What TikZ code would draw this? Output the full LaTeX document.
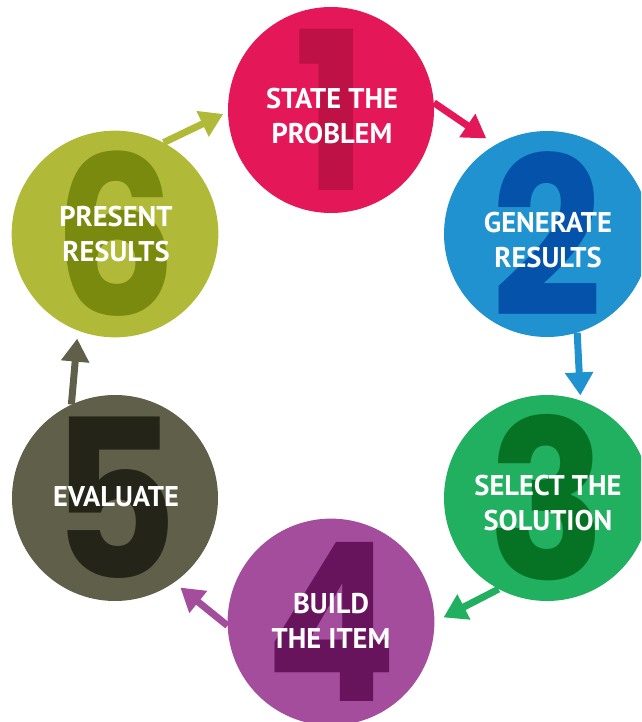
\documentclass[tikz,border=0pt]{standalone}
\usepackage{fontspec}
\setmainfont{PT Sans}
\newfontfamily\digitfont{Poppins}[FakeStretch=0.88]
\usepackage{xcolor}
\usepackage{tikz}
\usetikzlibrary{arrows.meta}

% circle fill and big number colour per stage
\definecolor{stateC}{HTML}{E41858}
\definecolor{stateD}{HTML}{BE1146}
\definecolor{generateC}{HTML}{2192D0}
\definecolor{generateD}{HTML}{0452AA}
\definecolor{selectC}{HTML}{21AF60}
\definecolor{selectD}{HTML}{067324}
\definecolor{buildC}{HTML}{A34D9C}
\definecolor{buildD}{HTML}{67145D}
\definecolor{evaluateC}{HTML}{60604A}
\definecolor{evaluateD}{HTML}{242418}
\definecolor{presentC}{HTML}{B0BA38}
\definecolor{presentD}{HTML}{7A8A0E}

\begin{document}
\begin{tikzpicture}[
    x=1pt, y=-1pt,
    stage/.style={circle, minimum size=206pt, inner sep=0pt, font=\digitfont\bfseries\fontsize{221}{221}\selectfont},
    caption/.style={align=center, text=white, font=\bfseries\fontsize{28.5}{35}\selectfont},
    arrow/.style={-{Triangle[length=23pt,width=27pt]}, line width=7pt}
]
\useasboundingbox (0,0) rectangle (641,722);
\clip (0,0) rectangle (641,722);

% the six stages
\node[stage, fill=stateC, text=stateD] (state) at (331,110) {1};
\node[stage, fill=generateC, text=generateD] (generate) at (547,234) {2};
\node[stage, fill=selectC, text=selectD] (select) at (547,498) {3};
\node[stage, fill=buildC, text=buildD] (build) at (331,622) {4};
\node[stage, fill=evaluateC, text=evaluateD] (evaluate) at (115,498) {5};
\node[stage, fill=presentC, text=presentD] (present) at (115,234) {6};

\node[caption] (stateT) at (332,116) {STATE THE\\PROBLEM};
\node[caption] (generateT) at (548,240) {GENERATE\\RESULTS};
\node[caption] (selectT) at (548,503) {SELECT THE\\SOLUTION};
\node[caption] (buildT) at (331,621) {BUILD\\THE ITEM};
\node[caption] (evaluateT) at (116,497) {EVALUATE};
\node[caption] (presentT) at (116,234) {PRESENT\\RESULTS};

% cycle arrows
\draw[arrow, stateC, shorten >=11pt] (state.4) -- (generate.120);
\draw[arrow, generateC, shorten >=5pt] (generate.-73) -- (select.71);
\draw[arrow, selectC, shorten >=10pt] (select.-118) -- (build.0);
\draw[arrow, buildC, shorten >=8pt] (build.182) -- (evaluate.-55);
\draw[arrow, evaluateC, shorten >=8pt] (evaluate.115) -- (present.-111);
\draw[arrow, presentC, shorten >=5pt] (present.62) -- (state.181);
\end{tikzpicture}
\end{document}
